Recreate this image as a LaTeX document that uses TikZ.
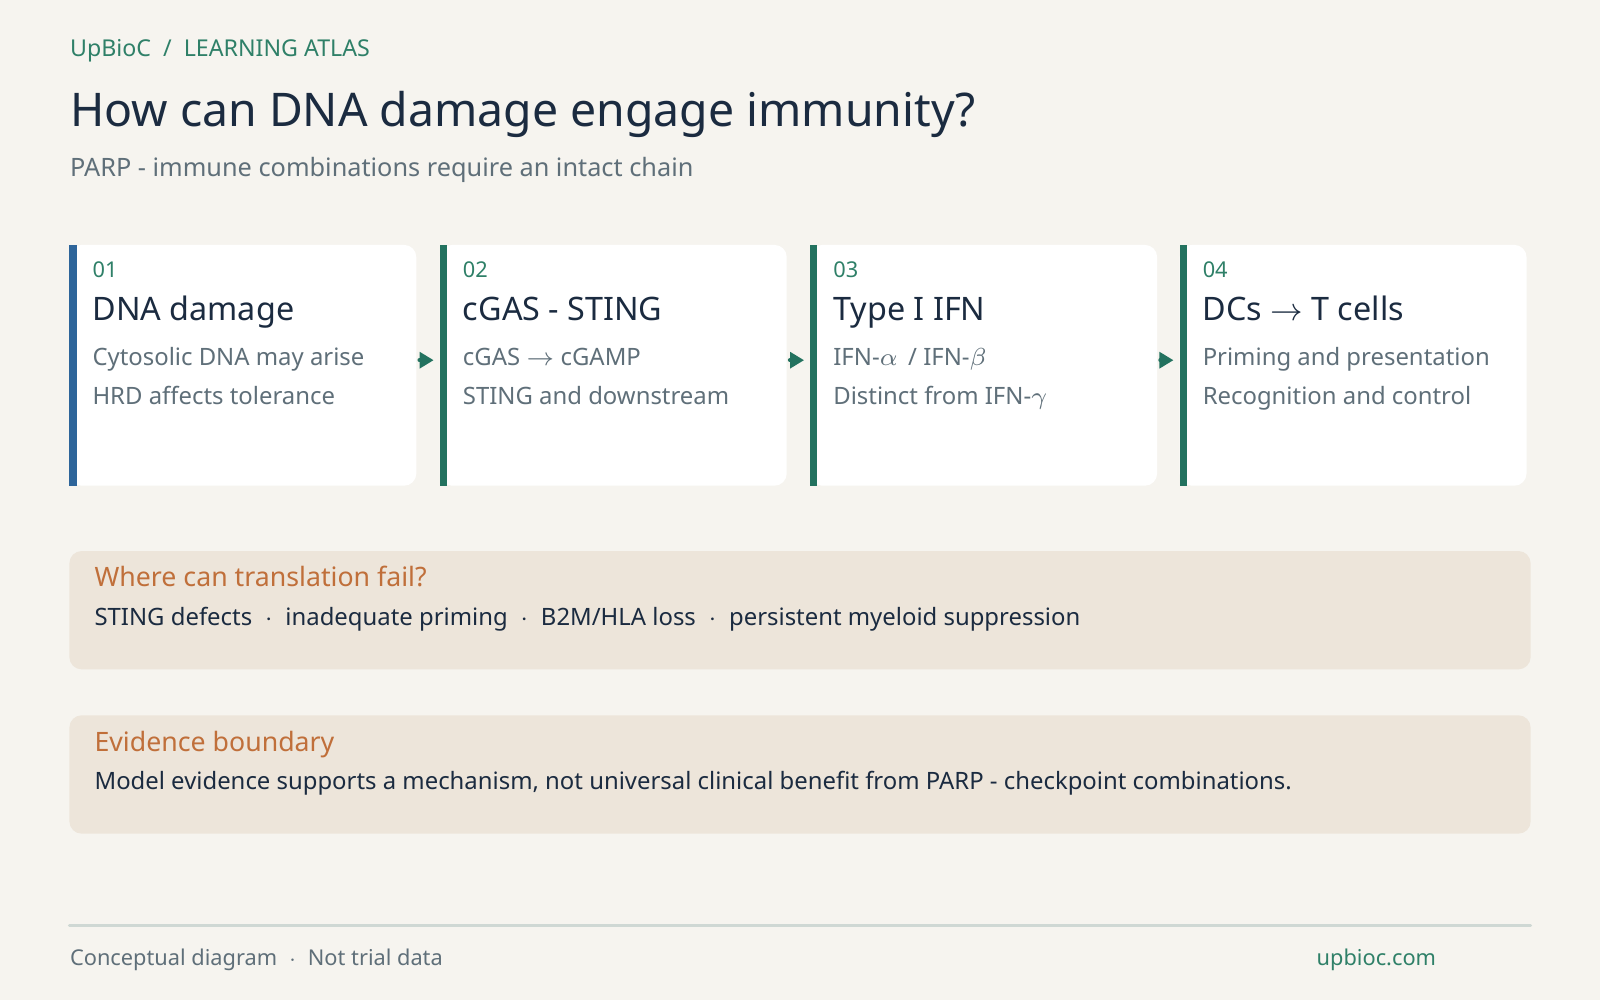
\documentclass[tikz,border=0pt]{standalone}
\usepackage{fontspec}
\setmainfont{Noto Sans}
\usetikzlibrary{arrows.meta, positioning, calc}

\definecolor{paper}{HTML}{F6F4EF}
\definecolor{sand}{HTML}{EDE5DA}
\definecolor{ink}{HTML}{1B2B40}
\definecolor{slate}{HTML}{5F6F79}
\definecolor{teal}{HTML}{23725F}
\definecolor{tealtxt}{HTML}{2F8068}
\definecolor{steel}{HTML}{2E659A}
\definecolor{rust}{HTML}{C06F3A}
\definecolor{rule}{HTML}{CFD8D4}

\begin{document}
\begin{tikzpicture}[x=0.010204cm, y=-0.010204cm, >=Stealth, line cap=round, line join=round]
	
	%======================
	% STYLES
	%======================
	\tikzset{
		card/.style={fill=white, rounded corners=3.5pt},
		num/.style={anchor=base west, inner sep=0, text=tealtxt, font=\fontsize{6.2}{7}\selectfont},
		head/.style={anchor=base west, inner sep=0, text=ink, font=\fontsize{9.2}{11}\selectfont},
		body/.style={anchor=base west, inner sep=0, text=slate, font=\fontsize{6.8}{8}\selectfont},
		panel/.style={fill=sand, rounded corners=3.5pt},
		ptitle/.style={anchor=base west, inner sep=0, text=rust, font=\fontsize{7.6}{9}\selectfont},
		ptext/.style={anchor=base west, inner sep=0, text=ink, font=\fontsize{6.8}{8}\selectfont},
		link/.style={teal, line width=1.1pt, -{Triangle[length=4pt,width=4.5pt]}}
	}
	
	% background
	\fill[paper] (0,0) rectangle (1568,980);
	\useasboundingbox (0,0) rectangle (1568,980);
	
	%======================
	% HEADER
	%======================
	\node[anchor=base west, text=tealtxt, font=\fontsize{6.6}{8}\selectfont, inner sep=0] (crumb) at (68,55) {UpBioC \ / \ LEARNING ATLAS};
	\node[anchor=base west, text=ink, font=\fontsize{13.2}{15}\selectfont, inner sep=0] (title) at (68,124) {How can DNA damage engage immunity?};
	\node[anchor=base west, text=slate, font=\fontsize{7.2}{9}\selectfont, inner sep=0] (subtitle) at (68,173) {PARP - immune combinations require an intact chain};
	
	%======================
	% CARDS
	%======================
	\foreach \i/\x/\col/\n/\h/\la/\lb in {
		1/68/steel/01/DNA damage/Cytosolic DNA may arise/HRD affects tolerance,
		2/431/teal/02/cGAS - STING/cGAS $\rightarrow$ cGAMP/STING and downstream,
		3/794/teal/03/Type I IFN/{IFN-$\alpha$ \,/ IFN-$\beta$}/Distinct from IFN-$\gamma$,
		4/1156/teal/04/DCs $\rightarrow$ T cells/Priming and presentation/Recognition and control}{
		\fill[card] (\x,240) rectangle ++(340,236);
		\fill[\col] (\x,240) rectangle ++(7,236);
		\coordinate (w\i) at (\x,353);
		\coordinate (e\i) at (\x+340,353);
		\node[num] (n\i) at (\x+22,272) {\n};
		\node[head] (h\i) at (\x+22,314) {\h};
		\node[body] (a\i) at (\x+22,358) {\la};
		\node[body] (b\i) at (\x+22,396) {\lb};
	}
	
	% links between cards
	\foreach \i/\j in {1/2, 2/3, 3/4}{
		\draw[link] ($(e\i)+(3,0)$) -- ($(w\j)+(-6,0)$);
	}
	
	%======================
	% PANELS
	%======================
	\fill[panel] (68,540) rectangle (1500,656);
	\node[ptitle] (failt) at (92,575) {Where can translation fail?};
	\node[ptext] (faill) at (92,613) {STING defects \ $\cdot$ \ inadequate priming \ $\cdot$ \ B2M/HLA loss \ $\cdot$ \ persistent myeloid suppression};
	
	\fill[panel] (68,701) rectangle (1500,817);
	\node[ptitle] (boundt) at (92,736) {Evidence boundary};
	\node[ptext] (boundl) at (92,774) {Model evidence supports a mechanism, not universal clinical benefit from PARP - checkpoint combinations.};
	
	%======================
	% FOOTER
	%======================
	\draw[rule, line width=0.8pt] (68,907) -- (1500,907);
	\node[anchor=base west, text=slate, font=\fontsize{6.2}{7}\selectfont, inner sep=0] (note) at (68,946) {Conceptual diagram \ $\cdot$ \ Not trial data};
	\node[anchor=base east, text=tealtxt, font=\fontsize{6.2}{7}\selectfont, inner sep=0] (site) at (1408,946) {upbioc.com};
	
\end{tikzpicture}
\end{document}
